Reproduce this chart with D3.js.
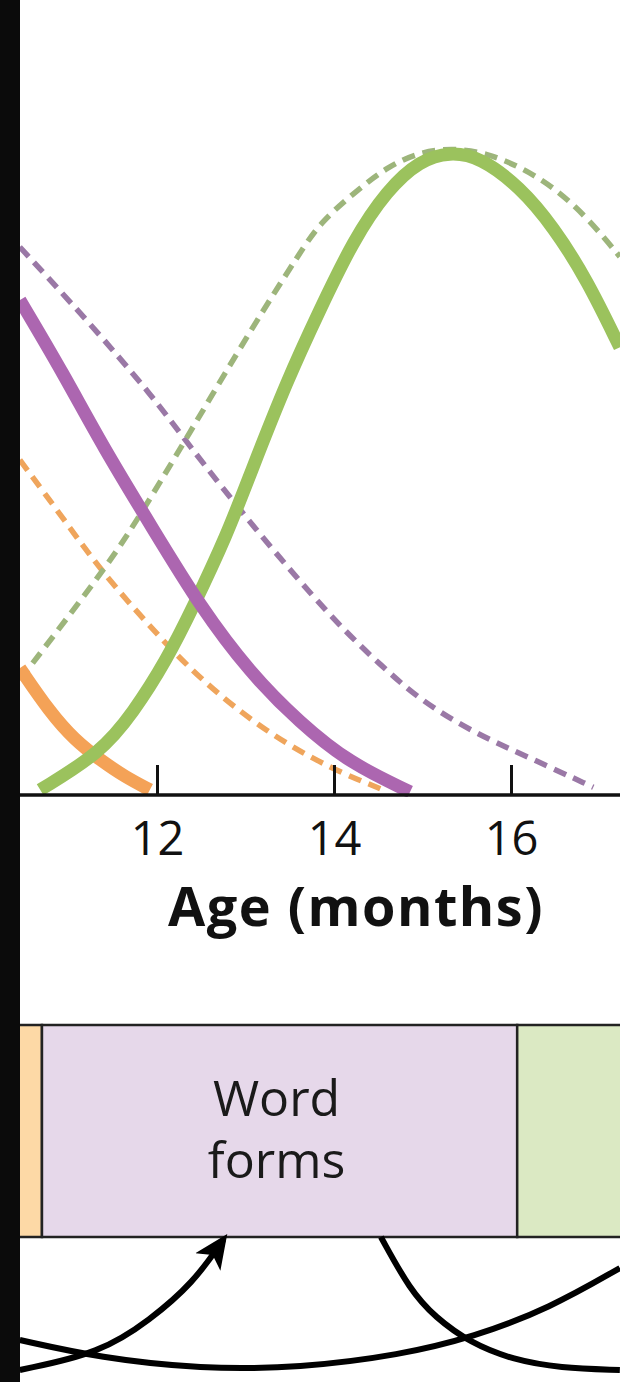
<!DOCTYPE html>
<html>
<head>
<meta charset="utf-8">
<script src="https://cdn.jsdelivr.net/npm/d3@7/dist/d3.min.js"></script>
<style>
  html, body { margin: 0; padding: 0; background: #fff; }
  svg { display: block; font-family: "Open Sans", "Noto Sans", sans-serif; }
</style>
</head>
<body>
<div id="chart"></div>
<script>
// ages (months) and relative activation (0-100)
var orangeSolid = [[10.45, 19.6], [10.79, 12.8], [11.07, 8.5], [11.36, 5.4], [11.64, 2.8], [11.92, 0.8]];
var orangeDashed = [[10.45, 51.8], [10.98, 42], [11.36, 34.8], [11.92, 26], [12.49, 17.8], [13.24, 9.6], [13.99, 3.9], [14.49, 1.2], [14.58, 0.6]];
var purpleSolid = [[10.45, 76.5], [10.94, 65.2], [11.39, 53.8], [11.96, 41], [12.49, 29.1], [13.05, 18.9], [13.62, 11.1], [14.18, 4.9], [14.86, 0.5]];
var purpleDashed = [[10.45, 84.7], [11.21, 73.4], [11.96, 61.5], [12.34, 54.4], [13.09, 41.4], [13.99, 27], [14.55, 19.8],
  [14.97, 14.7], [15.58, 9.6], [16.22, 5.7], [16.93, 1.2]];
var greenSolid = [[10.68, 0.8], [11.36, 6.5], [11.73, 12.7], [12.11, 20.9], [12.41, 29.1], [12.79, 40.2], [13.05, 49.5],
  [13.47, 64.1], [13.84, 75], [14.22, 85.8], [14.6, 93.5], [14.97, 98.1], [15.31, 99.4], [15.65, 98.6], [16.1, 94],
  [16.48, 87.8], [16.86, 79.6], [17.23, 69.2]];
var greenDashed = [[10.45, 17.8], [11.36, 34], [11.73, 41.4], [12.34, 55.3], [13.09, 72.6], [13.62, 83.9], [13.84, 88.4],
  [14.22, 93], [14.6, 97.1], [14.97, 99.4], [15.35, 100], [15.73, 99.2], [16.1, 97.1], [16.48, 94], [16.86, 89.3], [17.23, 83.2]];

var series = [
  { name: 'orange-dashed', values: orangeDashed, color: '#efa55c', dashed: true },
  { name: 'purple-dashed', values: purpleDashed, color: '#9a78a6', dashed: true },
  { name: 'green-dashed', values: greenDashed, color: '#9db57b', dashed: true },
  { name: 'orange', values: orangeSolid, color: '#f4a257', dashed: false },
  { name: 'green', values: greenSolid, color: '#9bc25d', dashed: false },
  { name: 'purple', values: purpleSolid, color: '#ac66b0', dashed: false }
];

var xTicks = [12, 14, 16];
var xTitle = 'Age (months)';

// stages shown in the band under the chart
var stageNames = ['', 'Word\nforms', ''];
var stageStarts = [10.2, 10.7, 16.07];
var stageEnds = [10.7, 16.07, 18];
var stageFills = ['#fdd9a6', '#e6d8ea', '#dbe9c3'];

// connector curves under the band: [age, depth 0..1 below the band]
var connectors = [
  { arrow: true, pts: [[10.45, 0.985], [11.36, 0.86], [11.92, 0.615], [12.41, 0.34], [12.75, 0.02]] },
  { arrow: false, pts: [[10.45, 0.763], [11.36, 0.896], [12.49, 0.978], [13.62, 0.97], [14.75, 0.874], [15.58, 0.741], [16.44, 0.526], [17.23, 0.23]] },
  { arrow: false, pts: [[14.53, 0], [14.86, 0.393], [15.14, 0.593], [15.54, 0.785], [16.03, 0.911], [16.55, 0.97], [17.23, 0.985]] }
];

var width = 620, height = 1382;
var plotLeft = 20, baseY = 795, topY = 148;
var bandTop = 1025, bandBottom = 1237;

var svg = d3.select('#chart').append('svg')
  .attr('width', width).attr('height', height);

svg.append('rect').attr('width', width).attr('height', height).attr('fill', '#fff');

var x = d3.scaleLinear().domain([12, 16]).range([157, 511]);
var y = d3.scaleLinear().domain([0, 100]).range([baseY, topY]);
var depth = d3.scaleLinear().domain([0, 1]).range([bandBottom, bandBottom + 135]);

svg.append('clipPath').attr('id', 'plot')
  .append('rect').attr('x', plotLeft).attr('y', 0)
  .attr('width', width - plotLeft).attr('height', baseY + 2);

var line = d3.line()
  .x(function(d) { return x(d[0]); })
  .y(function(d) { return y(d[1]); })
  .curve(d3.curveBasis);

var g = svg.append('g').attr('clip-path', 'url(#plot)');
g.selectAll('path.curve')
  .data(series)
  .enter().append('path')
  .attr('class', 'curve')
  .attr('d', function(d) { return line(d.values); })
  .attr('fill', 'none')
  .attr('stroke', function(d) { return d.color; })
  .attr('stroke-width', function(d) { return d.dashed ? 5.5 : 13; })
  .attr('stroke-dasharray', function(d) { return d.dashed ? '13,8' : null; });

// x axis: ticks point up from the baseline
var xAxis = d3.axisBottom(x).tickValues(xTicks).tickSize(-30).tickPadding(0).tickFormat(d3.format('d'));
var ax = svg.append('g').attr('transform', 'translate(0,' + baseY + ')').call(xAxis);
ax.select('.domain').remove();
ax.selectAll('.tick line').attr('stroke', '#111').attr('stroke-width', 3);
ax.selectAll('.tick text')
  .attr('y', 60).attr('dy', 0)
  .attr('fill', '#111')
  .style('font-size', '47px')
  .style('font-family', '"Open Sans", sans-serif');
svg.append('line')
  .attr('x1', plotLeft).attr('x2', width)
  .attr('y1', baseY).attr('y2', baseY)
  .attr('stroke', '#111').attr('stroke-width', 3.5);

svg.append('text')
  .attr('x', 356).attr('y', 926)
  .attr('text-anchor', 'middle')
  .attr('fill', '#111')
  .style('font-size', '54px')
  .style('font-weight', 700)
  .style('letter-spacing', '1.5px')
  .text(xTitle);

// stage band
var stages = stageNames.map(function(n, i) {
  return { name: n, start: stageStarts[i], end: stageEnds[i], fill: stageFills[i] };
});
var band = svg.append('g');
band.selectAll('rect')
  .data(stages)
  .enter().append('rect')
  .attr('x', function(d) { return x(d.start); })
  .attr('y', bandTop)
  .attr('width', function(d) { return x(d.end) - x(d.start); })
  .attr('height', bandBottom - bandTop)
  .attr('fill', function(d) { return d.fill; })
  .attr('stroke', '#222')
  .attr('stroke-width', 2.5);

band.selectAll('text')
  .data(stages.filter(function(d) { return d.name; }))
  .enter().append('text')
  .attr('x', function(d) { return (x(d.start) + x(d.end)) / 2 - 3; })
  .attr('y', 1116)
  .attr('text-anchor', 'middle')
  .attr('fill', '#1a1a1a')
  .style('font-size', '50px')
  .each(function(d) {
    var t = d3.select(this);
    d.name.split('\n').forEach(function(s, i) {
      t.append('tspan').attr('x', t.attr('x')).attr('dy', i ? 62 : 0).text(s);
    });
  });

// connectors
svg.append('defs').append('marker')
  .attr('id', 'head')
  .attr('viewBox', '0 0 10 10')
  .attr('refX', 8).attr('refY', 5)
  .attr('markerUnits', 'userSpaceOnUse')
  .attr('markerWidth', 34).attr('markerHeight', 34)
  .attr('orient', 'auto')
  .append('path').attr('d', 'M0,0.5 L10,5 L0,9.5 L2.5,5 Z').attr('fill', '#000');

var conn = d3.line()
  .x(function(d) { return x(d[0]); })
  .y(function(d) { return depth(d[1]); })
  .curve(d3.curveBasis);

svg.selectAll('path.conn')
  .data(connectors)
  .enter().append('path')
  .attr('class', 'conn')
  .attr('d', function(d) { return conn(d.pts); })
  .attr('fill', 'none')
  .attr('stroke', '#000')
  .attr('stroke-width', 6)
  .attr('marker-end', function(d) { return d.arrow ? 'url(#head)' : null; });

// dark strip on the left edge
svg.append('rect').attr('x', 0).attr('y', 0).attr('width', plotLeft).attr('height', height).attr('fill', '#0b0b0b');
</script>
</body>
</html>
